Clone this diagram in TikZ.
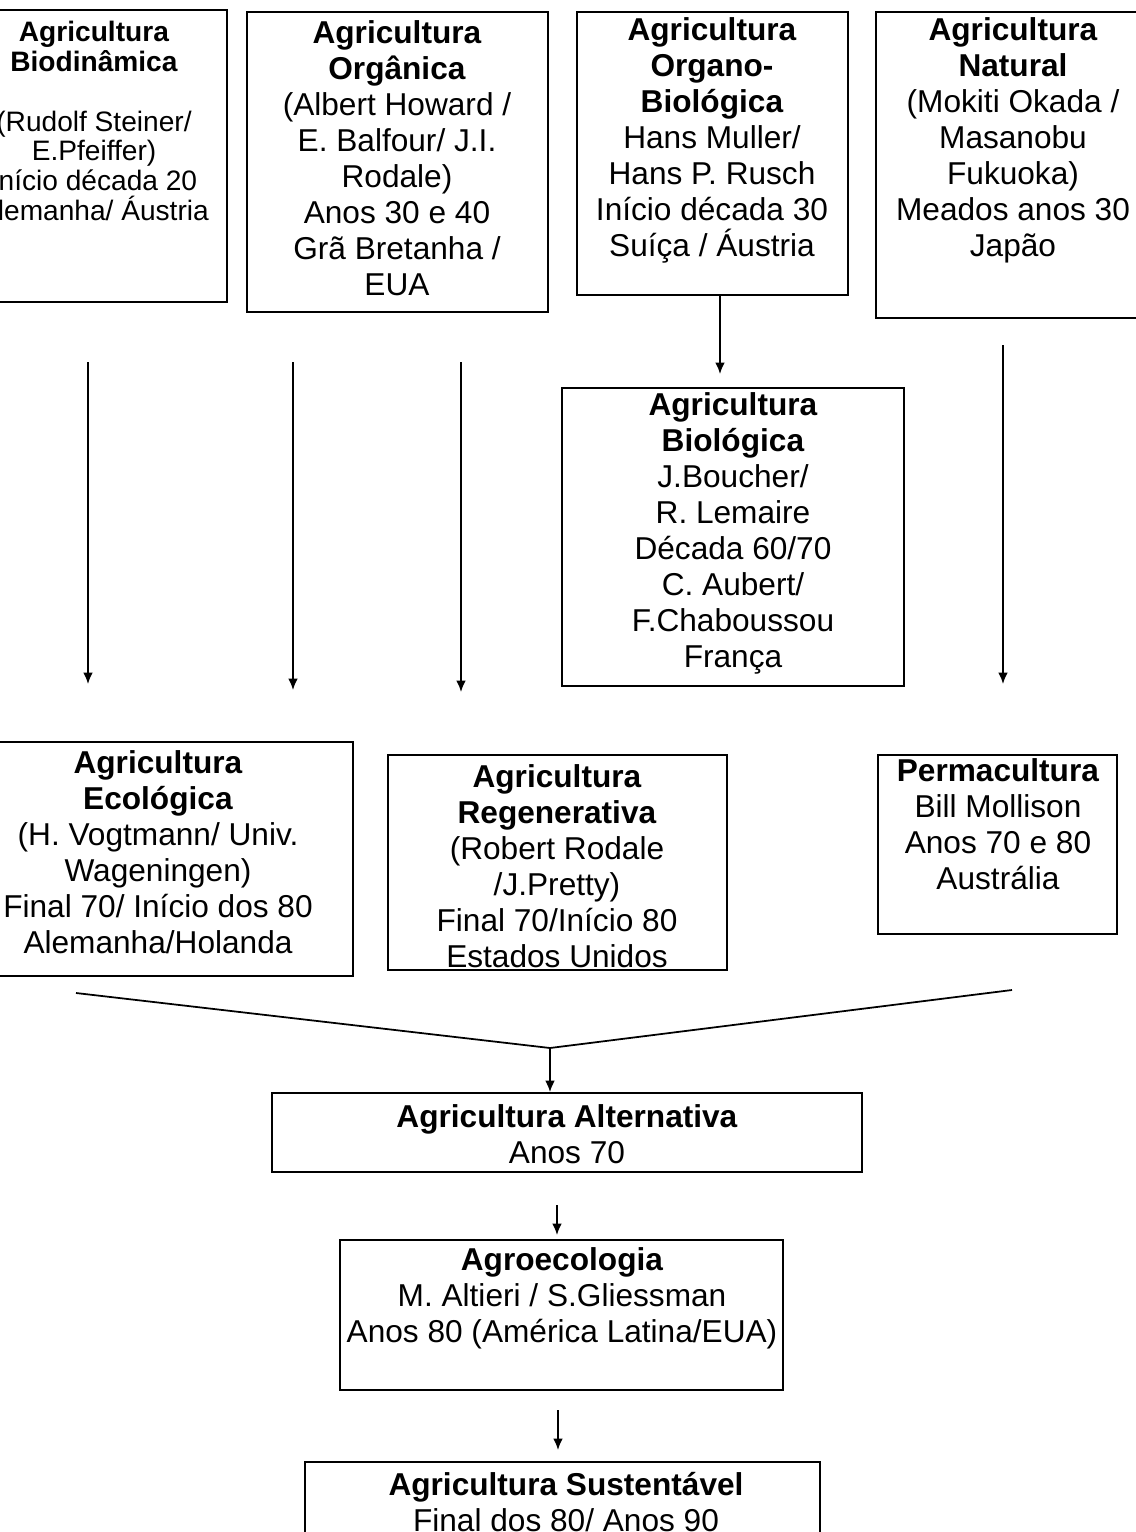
\documentclass[tikz,border=0pt]{standalone}
\usepackage{fontspec}
\setmainfont{Liberation Sans}
\usetikzlibrary{arrows.meta}

\begin{document}
\begin{tikzpicture}[x=0.02cm, y=-0.02cm,
      box/.style={draw, line width=1pt, inner sep=0pt},
      txt/.style={align=center, inner sep=0pt,
        font=\fontsize{18}{20.5}\selectfont},
      small txt/.style={align=center, inner sep=0pt,
        font=\fontsize{16}{17}\selectfont},
      flow/.style={line width=1pt, -{Latex[length=6.5pt, width=5.5pt]}}]
    \useasboundingbox (0,0) rectangle (1136,1532);
    \clip (0,0) rectangle (1136,1532);
    \node[box, minimum width=5.4cm, minimum height=5.84cm] (biodin) at (92,156) {};
    \node[small txt] (biodin-t) at (94,121) {\textbf{Agricultura}\\\textbf{Biodinâmica}\\[17pt]
      (Rudolf Steiner/\\E.Pfeiffer)\\Início década 20\\Alemanha/ Áustria};
    \node[box, minimum width=6.02cm, minimum height=6cm] (organica) at (397.5,162) {};
    \node[txt] (organica-t) at (397,158) {\textbf{Agricultura}\\\textbf{Orgânica}\\(Albert Howard /\\
      E. Balfour/ J.I.\\Rodale)\\Anos 30 e 40\\Grã Bretanha /\\EUA};
    \node[box, minimum width=5.42cm, minimum height=5.66cm] (organo) at (712.5,153.5) {};
    \node[txt] (organo-t) at (712,140) {\textbf{Agricultura}\\\textbf{Organo-}\\\textbf{Biológica}\\
      Hans Muller/\\Hans P. Rusch\\Início década 30\\Suíça / Áustria};
    \node[box, minimum width=5.48cm, minimum height=6.12cm] (natural) at (1013,165) {};
    \node[txt] (natural-t) at (1013,140) {\textbf{Agricultura}\\\textbf{Natural}\\(Mokiti Okada /\\
      Masanobu\\Fukuoka)\\Meados anos 30\\Japão};
    \node[box, minimum width=6.84cm, minimum height=5.96cm] (biologica) at (733,537) {};
    \node[txt] (biologica-t) at (733,533) {\textbf{Agricultura}\\\textbf{Biológica}\\J.Boucher/\\
      R. Lemaire\\Década 60/70\\C. Aubert/\\F.Chaboussou\\França};
    \node[box, minimum width=7.8cm, minimum height=4.68cm] (ecologica) at (158,859) {};
    \node[txt] (ecologica-t) at (158,852) {\textbf{Agricultura}\\\textbf{Ecológica}\\
      (H. Vogtmann/ Univ.\\Wageningen)\\Final 70/ Início dos 80\\Alemanha/Holanda};
    \node[box, minimum width=6.78cm, minimum height=4.3cm] (regen) at (557.5,862.5) {};
    \node[txt] (regen-t) at (557,866) {\textbf{Agricultura}\\\textbf{Regenerativa}\\
      (Robert Rodale\\/J.Pretty)\\Final 70/Início 80\\Estados Unidos};
    \node[box, minimum width=4.78cm, minimum height=3.58cm] (perma) at (997.5,844.5) {};
    \node[txt] (perma-t) at (998,824.5) {\textbf{Permacultura}\\Bill Mollison\\Anos 70 e 80\\Austrália};
    \node[box, minimum width=11.8cm, minimum height=1.58cm] (altern) at (567,1132.5) {};
    \node[txt] (altern-t) at (567,1134) {\textbf{Agricultura Alternativa}\\Anos 70};
    \node[box, minimum width=8.86cm, minimum height=3cm] (agroeco) at (561.5,1315) {};
    \node[txt] (agroeco-t) at (562,1298) {\textbf{Agroecologia}\\M. Altieri / S.Gliessman\\
      Anos 80 (América Latina/EUA)};
    \node[box, minimum width=10.3cm, minimum height=2.76cm] (sust) at (562.5,1531) {};
    \node[txt] (sust-t) at (566,1502) {\textbf{Agricultura Sustentável}\\Final dos 80/ Anos 90};
    \coordinate (s1) at (88,362);   \coordinate (e1) at (88,684);
    \coordinate (s2) at (293,362);  \coordinate (e2) at (293,690);
    \coordinate (s3) at (461,362);  \coordinate (e3) at (461,692);
    \coordinate (e4) at (720,374);
    \coordinate (s5) at (1003,345); \coordinate (e5) at (1003,684);
    \coordinate (ecoend) at (76,993);
    \coordinate (permend) at (1012,990);
    \coordinate (merge) at (550,1048);
    \coordinate (s6) at (557,1205); \coordinate (e6) at (557,1235);
    \coordinate (s7) at (558,1410); \coordinate (e7) at (558,1450);
    \draw[flow] (s1) -- (e1);
    \draw[flow] (s2) -- (e2);
    \draw[flow] (s3) -- (e3);
    \draw[flow] (organo.south -| e4) -- (e4);
    \draw[flow] (s5) -- (e5);
    \draw[line width=1pt] (ecoend) -- (merge) -- (permend);
    \draw[flow] (merge) -- (altern.north -| merge);
    \draw[flow] (s6) -- (e6);
    \draw[flow] (s7) -- (e7);
  \end{tikzpicture}
\end{document}
